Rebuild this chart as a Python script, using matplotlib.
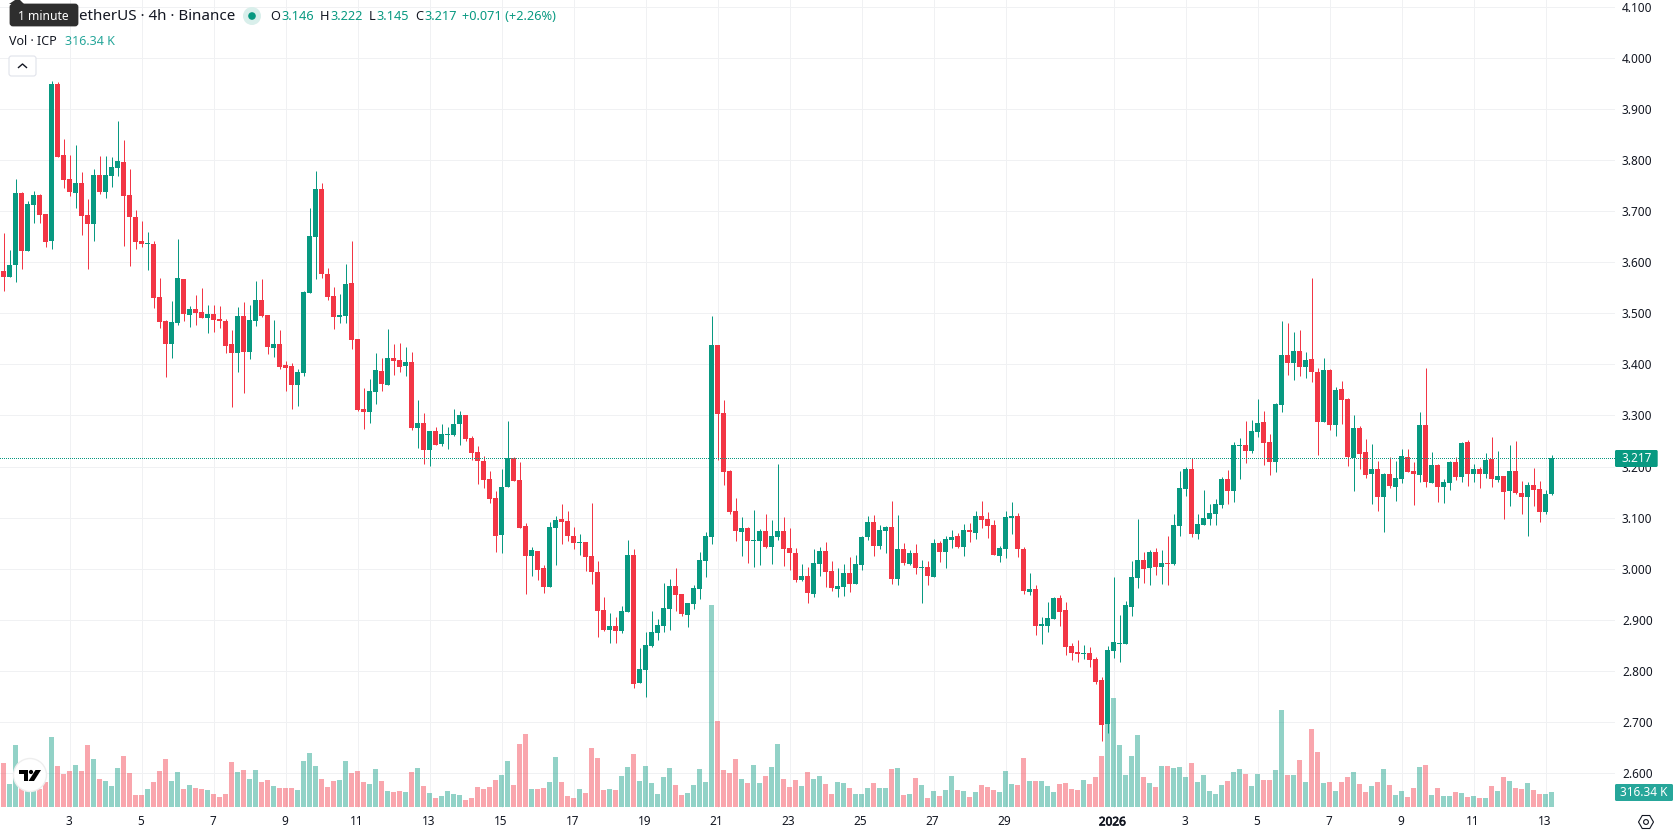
import matplotlib
matplotlib.use('Agg')
import matplotlib.pyplot as plt
import matplotlib.patheffects as pe
from matplotlib.patches import Circle, FancyBboxPatch, Polygon, RegularPolygon
import numpy as np

plt.rcParams['font.family'] = ['Noto Sans', 'DejaVu Sans']

# 4h candles, ICP / USDT
opens = [
    3.583, 3.571, 3.595, 3.736, 3.622, 3.712, 3.732, 3.695, 3.642, 3.949,
    3.810, 3.763, 3.736, 3.755, 3.693, 3.675, 3.771, 3.738, 3.769, 3.784,
    3.796, 3.732, 3.689, 3.642, 3.636, 3.636, 3.532, 3.485, 3.440, 3.481,
    3.567, 3.497, 3.509, 3.503, 3.491, 3.499, 3.489, 3.485, 3.440, 3.423,
    3.495, 3.425, 3.485, 3.526, 3.497, 3.432, 3.440, 3.399, 3.397, 3.360,
    3.383, 3.540, 3.649, 3.743, 3.577, 3.534, 3.493, 3.495, 3.560, 3.450,
    3.313, 3.307, 3.346, 3.387, 3.360, 3.413, 3.409, 3.397, 3.405, 3.276,
    3.286, 3.233, 3.270, 3.244, 3.262, 3.262, 3.284, 3.301, 3.256, 3.229,
    3.211, 3.176, 3.139, 3.066, 3.160, 3.217, 3.174, 3.084, 3.025, 3.035,
    3.002, 2.965, 3.080, 3.098, 3.094, 3.064, 3.051, 3.053, 3.025, 2.994,
    2.920, 2.881, 2.888, 2.879, 2.916, 3.027, 2.777, 2.802, 2.849, 2.875,
    2.888, 2.922, 2.967, 2.951, 2.910, 2.931, 2.961, 3.016, 3.063, 3.438,
    3.305, 3.192, 3.113, 3.072, 3.080, 3.055, 3.055, 3.074, 3.043, 3.063,
    3.074, 3.041, 3.031, 2.978, 2.986, 2.951, 3.010, 3.035, 2.996, 2.961,
    2.965, 2.992, 2.971, 3.008, 3.063, 3.092, 3.045, 3.074, 3.082, 2.980,
    3.039, 3.010, 3.031, 3.002, 3.004, 2.984, 3.051, 3.033, 3.057, 3.064,
    3.043, 3.076, 3.070, 3.104, 3.098, 3.086, 3.025, 3.039, 3.100, 3.104,
    3.039, 2.955, 2.961, 2.888, 2.888, 2.902, 2.943, 2.920, 2.849, 2.837,
    2.834, 2.835, 2.824, 2.783, 2.696, 2.840, 2.853, 2.853, 2.926, 2.982,
    3.018, 3.002, 3.033, 3.004, 3.012, 3.010, 3.084, 3.156, 3.196, 3.068,
    3.086, 3.098, 3.107, 3.125, 3.176, 3.152, 3.241, 3.242, 3.231, 3.268,
    3.287, 3.248, 3.209, 3.321, 3.418, 3.403, 3.426, 3.395, 3.411, 3.385,
    3.287, 3.389, 3.282, 3.352, 3.332, 3.217, 3.276, 3.229, 3.186, 3.196,
    3.141, 3.186, 3.160, 3.176, 3.219, 3.192, 3.184, 3.282, 3.168, 3.203,
    3.160, 3.168, 3.209, 3.180, 3.248, 3.186, 3.196, 3.186, 3.215, 3.174,
    3.182, 3.152, 3.192, 3.149, 3.141, 3.164, 3.156, 3.111, 3.146,
]
highs = [
    3.657, 3.624, 3.763, 3.738, 3.720, 3.739, 3.734, 3.695, 3.955, 3.953,
    3.841, 3.810, 3.829, 3.777, 3.724, 3.783, 3.808, 3.808, 3.806, 3.876,
    3.839, 3.783, 3.702, 3.681, 3.659, 3.642, 3.569, 3.487, 3.524, 3.646,
    3.567, 3.515, 3.536, 3.550, 3.517, 3.517, 3.515, 3.489, 3.468, 3.513,
    3.522, 3.517, 3.563, 3.567, 3.497, 3.487, 3.468, 3.407, 3.403, 3.391,
    3.544, 3.706, 3.779, 3.755, 3.589, 3.552, 3.538, 3.597, 3.642, 3.450,
    3.354, 3.372, 3.423, 3.413, 3.470, 3.440, 3.442, 3.434, 3.425, 3.331,
    3.305, 3.270, 3.278, 3.284, 3.278, 3.313, 3.309, 3.301, 3.260, 3.241,
    3.221, 3.192, 3.153, 3.196, 3.289, 3.219, 3.209, 3.090, 3.043, 3.035,
    3.008, 3.092, 3.104, 3.127, 3.113, 3.082, 3.068, 3.053, 3.129, 3.016,
    2.945, 2.914, 2.906, 2.928, 3.057, 3.039, 2.845, 2.877, 2.918, 2.902,
    2.973, 2.980, 3.002, 2.951, 2.933, 2.969, 3.033, 3.072, 3.495, 3.438,
    3.330, 3.194, 3.139, 3.102, 3.082, 3.115, 3.078, 3.107, 3.096, 3.205,
    3.102, 3.080, 3.041, 3.010, 3.004, 3.039, 3.043, 3.053, 3.016, 3.002,
    3.010, 3.023, 3.027, 3.064, 3.104, 3.106, 3.086, 3.084, 3.133, 3.106,
    3.051, 3.037, 3.049, 3.017, 3.016, 3.059, 3.055, 3.064, 3.076, 3.070,
    3.088, 3.090, 3.113, 3.133, 3.111, 3.096, 3.045, 3.113, 3.131, 3.109,
    3.043, 2.992, 2.969, 2.906, 2.935, 2.945, 2.949, 2.935, 2.855, 2.861,
    2.851, 2.847, 2.828, 2.788, 2.849, 2.984, 2.910, 2.937, 3.016, 3.098,
    3.033, 3.037, 3.041, 3.037, 3.064, 3.107, 3.192, 3.199, 3.217, 3.107,
    3.154, 3.127, 3.137, 3.180, 3.194, 3.248, 3.256, 3.289, 3.291, 3.332,
    3.309, 3.264, 3.325, 3.485, 3.481, 3.463, 3.467, 3.424, 3.569, 3.393,
    3.413, 3.391, 3.356, 3.368, 3.334, 3.301, 3.280, 3.254, 3.244, 3.211,
    3.188, 3.219, 3.211, 3.235, 3.235, 3.209, 3.307, 3.393, 3.229, 3.205,
    3.176, 3.211, 3.219, 3.248, 3.252, 3.205, 3.199, 3.227, 3.258, 3.231,
    3.182, 3.242, 3.250, 3.172, 3.170, 3.198, 3.172, 3.154, 3.222,
]
lows = [
    3.544, 3.571, 3.562, 3.587, 3.622, 3.677, 3.677, 3.630, 3.626, 3.806,
    3.745, 3.730, 3.706, 3.653, 3.587, 3.642, 3.734, 3.726, 3.747, 3.769,
    3.632, 3.593, 3.626, 3.630, 3.585, 3.511, 3.472, 3.376, 3.413, 3.477,
    3.485, 3.474, 3.477, 3.491, 3.462, 3.464, 3.472, 3.423, 3.317, 3.385,
    3.344, 3.411, 3.475, 3.493, 3.421, 3.415, 3.391, 3.348, 3.313, 3.319,
    3.378, 3.540, 3.567, 3.569, 3.526, 3.470, 3.481, 3.481, 3.430, 3.309,
    3.274, 3.286, 3.323, 3.348, 3.360, 3.380, 3.385, 3.378, 3.272, 3.237,
    3.205, 3.201, 3.242, 3.241, 3.235, 3.260, 3.242, 3.250, 3.213, 3.166,
    3.158, 3.129, 3.033, 3.031, 3.160, 3.172, 3.080, 2.951, 2.986, 2.978,
    2.953, 2.965, 3.008, 3.049, 3.055, 3.039, 3.027, 2.996, 2.971, 2.867,
    2.879, 2.855, 2.855, 2.875, 2.916, 2.767, 2.777, 2.750, 2.847, 2.861,
    2.877, 2.881, 2.918, 2.908, 2.887, 2.922, 2.941, 2.984, 3.049, 3.213,
    3.164, 3.107, 3.055, 3.025, 3.012, 3.004, 3.008, 3.041, 3.010, 3.057,
    3.006, 2.998, 2.974, 2.976, 2.933, 2.945, 2.986, 2.965, 2.957, 2.945,
    2.947, 2.955, 2.971, 2.998, 3.057, 3.025, 3.039, 3.031, 2.971, 2.969,
    3.008, 3.008, 2.990, 2.933, 2.969, 2.984, 3.014, 3.002, 3.041, 3.041,
    3.025, 3.053, 3.059, 3.080, 3.061, 3.027, 3.014, 3.021, 3.068, 3.023,
    2.951, 2.949, 2.871, 2.853, 2.877, 2.902, 2.888, 2.832, 2.822, 2.818,
    2.824, 2.808, 2.775, 2.663, 2.679, 2.826, 2.818, 2.853, 2.908, 2.963,
    2.973, 2.969, 2.988, 2.971, 2.969, 3.008, 3.064, 3.143, 3.062, 3.059,
    3.086, 3.086, 3.086, 3.119, 3.127, 3.131, 3.176, 3.207, 3.227, 3.258,
    3.203, 3.184, 3.190, 3.307, 3.379, 3.370, 3.377, 3.373, 3.366, 3.223,
    3.287, 3.272, 3.260, 3.284, 3.201, 3.152, 3.196, 3.178, 3.127, 3.113,
    3.072, 3.158, 3.133, 3.168, 3.190, 3.125, 3.170, 3.160, 3.168, 3.131,
    3.129, 3.154, 3.174, 3.170, 3.162, 3.170, 3.158, 3.178, 3.160, 3.170,
    3.098, 3.123, 3.147, 3.107, 3.064, 3.123, 3.092, 3.107, 3.145,
]
closes = [
    3.571, 3.595, 3.736, 3.622, 3.714, 3.732, 3.693, 3.640, 3.949, 3.806,
    3.761, 3.738, 3.755, 3.691, 3.675, 3.771, 3.738, 3.771, 3.786, 3.798,
    3.730, 3.689, 3.640, 3.636, 3.637, 3.530, 3.483, 3.440, 3.483, 3.569,
    3.499, 3.509, 3.501, 3.491, 3.499, 3.487, 3.485, 3.436, 3.423, 3.495,
    3.425, 3.487, 3.526, 3.495, 3.434, 3.440, 3.395, 3.393, 3.360, 3.385,
    3.542, 3.651, 3.743, 3.577, 3.532, 3.493, 3.497, 3.558, 3.448, 3.311,
    3.307, 3.348, 3.389, 3.362, 3.413, 3.407, 3.395, 3.405, 3.276, 3.286,
    3.233, 3.270, 3.242, 3.264, 3.264, 3.284, 3.301, 3.254, 3.227, 3.211,
    3.174, 3.137, 3.064, 3.160, 3.217, 3.172, 3.080, 3.025, 3.037, 2.998,
    2.965, 3.082, 3.096, 3.092, 3.064, 3.051, 3.053, 3.023, 2.994, 2.918,
    2.881, 2.888, 2.879, 2.918, 3.027, 2.775, 2.804, 2.851, 2.877, 2.890,
    2.924, 2.967, 2.949, 2.912, 2.933, 2.963, 3.018, 3.064, 3.438, 3.303,
    3.190, 3.111, 3.074, 3.080, 3.055, 3.057, 3.074, 3.043, 3.064, 3.074,
    3.039, 3.031, 2.978, 2.986, 2.953, 3.012, 3.035, 2.994, 2.963, 2.967,
    2.992, 2.971, 3.010, 3.063, 3.092, 3.045, 3.076, 3.082, 2.980, 3.039,
    3.012, 3.031, 3.002, 3.004, 2.986, 3.051, 3.033, 3.059, 3.063, 3.043,
    3.076, 3.072, 3.104, 3.096, 3.084, 3.027, 3.041, 3.102, 3.104, 3.039,
    2.957, 2.961, 2.888, 2.892, 2.904, 2.943, 2.916, 2.847, 2.835, 2.834,
    2.835, 2.822, 2.779, 2.694, 2.841, 2.857, 2.855, 2.930, 2.984, 3.018,
    3.000, 3.033, 3.004, 3.012, 3.010, 3.086, 3.158, 3.196, 3.068, 3.088,
    3.100, 3.109, 3.127, 3.176, 3.152, 3.242, 3.242, 3.231, 3.270, 3.285,
    3.246, 3.209, 3.323, 3.418, 3.403, 3.426, 3.395, 3.409, 3.385, 3.287,
    3.389, 3.282, 3.350, 3.330, 3.219, 3.276, 3.225, 3.184, 3.196, 3.141,
    3.186, 3.162, 3.178, 3.221, 3.190, 3.186, 3.282, 3.170, 3.203, 3.160,
    3.170, 3.209, 3.180, 3.246, 3.186, 3.196, 3.186, 3.213, 3.176, 3.182,
    3.151, 3.192, 3.149, 3.141, 3.164, 3.154, 3.111, 3.146, 3.217,
]
# volume in thousands of ICP
volumes = [
    928, 485, 1308, 640, 569, 359, 380, 527, 1476, 865,
    696, 759, 886, 759, 1308, 1012, 591, 548, 443, 823,
    1076, 717, 253, 253, 380, 527, 759, 1012, 548, 738,
    380, 464, 401, 380, 359, 274, 211, 274, 949, 738,
    780, 591, 780, 527, 569, 443, 401, 401, 401, 359,
    970, 1139, 865, 591, 422, 548, 569, 970, 717, 759,
    527, 485, 801, 548, 337, 316, 337, 316, 738, 823,
    443, 295, 190, 232, 337, 274, 253, 148, 190, 422,
    380, 422, 569, 675, 970, 464, 1329, 1540, 380, 380,
    401, 527, 1055, 527, 232, 190, 380, 295, 1244, 1033,
    359, 380, 359, 654, 844, 1118, 548, 865, 506, 274,
    633, 823, 464, 253, 295, 464, 801, 527, 4260, 1814,
    780, 717, 1012, 591, 506, 886, 506, 654, 844, 1329,
    591, 422, 569, 443, 738, 591, 654, 485, 274, 527,
    506, 401, 274, 274, 401, 506, 401, 401, 801, 823,
    253, 274, 612, 464, 190, 337, 232, 359, 654, 359,
    337, 211, 316, 464, 422, 359, 316, 759, 485, 464,
    1033, 548, 548, 548, 443, 316, 485, 506, 380, 359,
    569, 485, 633, 1076, 2608, 2299, 1308, 675, 1076, 1519,
    633, 506, 422, 865, 865, 823, 844, 633, 928, 527,
    675, 337, 274, 464, 548, 738, 801, 696, 443, 696,
    569, 569, 780, 2046, 675, 675, 991, 527, 1645, 1160,
    506, 527, 337, 527, 633, 738, 485, 316, 443, 527,
    801, 464, 253, 337, 211, 401, 844, 886, 253, 401,
    232, 232, 316, 295, 211, 232, 190, 190, 443, 337,
    633, 548, 401, 380, 506, 359, 274, 274, 316.34,
]
# candle index of each date label
tick_index = [11, 23, 35, 47, 59, 71, 83, 95, 107, 119, 131, 143, 155, 167,
              185, 197, 209, 221, 233, 245, 257]
tick_labels = ['3', '5', '7', '9', '11', '13', '15', '17', '19', '21', '23',
               '25', '27', '29', '2026', '3', '5', '7', '9', '11', '13']
price_ticks = [2.6, 2.7, 2.8, 2.9, 3.0, 3.1, 3.2, 3.3, 3.4, 3.5, 3.6, 3.7, 3.8,
               3.9, 4.0, 4.1]
last_price = 3.217
last_volume = 316.34

UP = '#089981'
DOWN = '#F23645'
W, H = 1678, 835
PLOT_W, PLOT_H = 1614.5, 808
PX_PER_PRICE = 511.0
PX_PER_KVOL = 1 / 21.09
TEXT = '#131722'
TICK_SIZE = 8.5

o = np.array(opens)
h = np.array(highs)
l = np.array(lows)
c = np.array(closes)
v = np.array(volumes)
x = np.arange(len(o))
colors = np.where(c >= o, UP, DOWN)

fig = plt.figure(figsize=(W / 100, H / 100), facecolor='white')
ax = fig.add_axes([0, 1 - PLOT_H / H, PLOT_W / W, PLOT_H / H])
ax.set_xlim(-3.5 / 6, (PLOT_W - 3.5) / 6)
ax.set_ylim(4.1131 - PLOT_H / PX_PER_PRICE, 4.1131)

# volume sits at the foot of the price pane, scaled to its own pixels
vol_base = 4.1131 - 807 / PX_PER_PRICE
vol_scale = PX_PER_KVOL / PX_PER_PRICE
ax.bar(x, v * vol_scale, bottom=vol_base, width=5 / 6, color=colors, alpha=0.44,
       linewidth=0, zorder=1)

ax.vlines(x, l, h, colors=colors, linewidth=0.72, zorder=2)
ax.bar(x, np.abs(c - o), bottom=np.minimum(o, c), width=5 / 6, color=colors,
       linewidth=0, zorder=3)

last_line = ax.axhline(last_price, color=UP, lw=0.72, ls=(0, (1, 2)), zorder=4)
last_line.set_snap(True)
last_line.set_antialiased(False)

ax.set_xticks(tick_index)
ax.set_xticklabels([])
for idx, name in zip(tick_index, tick_labels):
    t = ax.annotate(name, xy=(idx, 0), xycoords=('data', 'axes fraction'),
                    xytext=(-0.7, -10), textcoords='offset points',
                    ha='center', va='center', fontsize=TICK_SIZE, color=TEXT,
                    annotation_clip=False)
    if name == '2026':
        # the installed Noto Sans has no heavier cut to pick from
        t.set_path_effects([pe.withStroke(linewidth=0.5, foreground=TEXT)])
ax.yaxis.tick_right()
ax.set_yticks(price_ticks)
ax.set_yticklabels(['%.3f' % p for p in price_ticks], fontsize=TICK_SIZE, color=TEXT)
ax.tick_params(axis='both', length=0)
ax.tick_params(axis='y', pad=5.4)
ax.grid(color='#f0f1f3', lw=0.72, zorder=0)
ax.set_axisbelow(True)
for s in ax.spines.values():
    s.set_visible(False)

# header, tags and buttons are laid out in figure pixels
ui = fig.add_axes([0, 0, 1, 1], zorder=5)
ui.set_xlim(0, W)
ui.set_ylim(H, 0)
ui.axis('off')
ui.patch.set_alpha(0)

ui.text(235, 17, 'etherUS · 4h · Binance', ha='right', va='center', fontsize=10.9, color=TEXT)
ui.add_patch(Circle((252, 16), 9, color='#d9efeb', lw=0))
ui.add_patch(Circle((252, 16), 3.8, color=UP, lw=0))
header = [('O', 270, '3.146', 281), ('H', 319.5, '3.222', 330),
          ('L', 368.5, '3.145', 376), ('C', 415, '3.217', 424)]
for key, kx, val, vx in header:
    ui.text(kx, 17, key, va='center', fontsize=9.2, color=TEXT)
    ui.text(vx, 17, val, va='center', fontsize=9.2, color=UP)
ui.text(462, 17, '+0.071 (+2.26%)', va='center', fontsize=9.2, color=UP)

ui.text(9, 41.5, 'Vol · ICP', va='center', fontsize=9, color=TEXT)
ui.text(65, 41.5, '316.34 K', va='center', fontsize=9, color='#26a69a')

# tooltip over the symbol name
ui.add_patch(Polygon([[9, 4], [15, 0], [20, 0], [24, 4]], color='#2e2e2e', lw=0))
ui.add_patch(FancyBboxPatch((11, 5), 66, 20, boxstyle='round,pad=0,rounding_size=2',
                            fc='#2e2e2e', ec='#2e2e2e', lw=2))
ui.text(43, 16, '1 minute', ha='center', va='center', fontsize=8.7, color='white')

# collapse button
ui.add_patch(FancyBboxPatch((9, 56), 27, 20, boxstyle='round,pad=0,rounding_size=2.5',
                            fc='white', ec='#e0e3eb', lw=0.8))
ui.plot([18.5, 22.5, 26.5], [67.5, 64, 67.5], color=TEXT, lw=1.0)

# logo badge
ui.add_patch(Circle((30, 775), 16.5, fc='white', ec='#eeeeee', lw=1))
ui.add_patch(Polygon([[19, 770], [28, 770], [28, 781], [23.5, 781], [23.5, 774], [19, 774]],
                     color='black', lw=0))
ui.add_patch(Circle((31, 772), 2.1, color='black', lw=0))
ui.add_patch(Polygon([[35.5, 770], [41, 770], [34, 781], [28.5, 781]], color='black', lw=0))

# last price and volume tags
ui.add_patch(FancyBboxPatch((1615, 450), 42.7, 17, boxstyle='round,pad=0,rounding_size=1.5',
                            fc=UP, ec='none'))
ui.text(1636.8, 459, '%.3f' % last_price, ha='center', va='center', fontsize=TICK_SIZE, color='white')
ui.add_patch(FancyBboxPatch((1615, 784), 58, 17, boxstyle='round,pad=0,rounding_size=1.5',
                            fc='#26a69a', ec='none'))
ui.text(1644, 793, '%.2f K' % last_volume, ha='center', va='center', fontsize=TICK_SIZE, color='white')

# settings gear
ui.add_patch(RegularPolygon((1646, 822), 6, radius=7.5, orientation=np.pi / 6,
                            fc='white', ec=TEXT, lw=0.8))
ui.add_patch(Circle((1646, 822), 2.4, fc='white', ec=TEXT, lw=0.8))

fig.savefig('out.png', dpi=100)
